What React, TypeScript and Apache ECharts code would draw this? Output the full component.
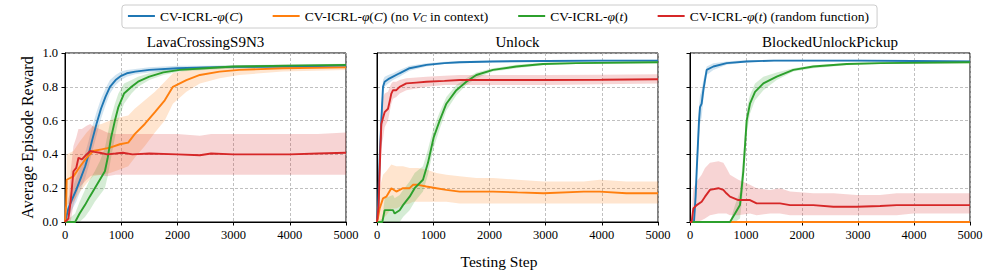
import React, { useEffect, useRef } from "react";
import * as echarts from "echarts";

// ---------- names ----------
const NAME_C = "CV-ICRL-φ(C)";
const NAME_C_NOV = "CV-ICRL-φ(C) (no V_C in context)";
const NAME_T = "CV-ICRL-φ(t)";
const NAME_T_RND = "CV-ICRL-φ(t) (random function)";
const seriesNames = [NAME_C, NAME_C_NOV, NAME_T, NAME_T_RND];
const panelTitles = ["LavaCrossingS9N3", "Unlock", "BlockedUnlockPickup"];

// ---------- LavaCrossingS9N3 ----------
const lavaBlueX = [0, 60, 120, 200, 280, 360, 420, 480, 560, 640, 720, 800, 900, 1000, 1100, 1250, 1500, 2000, 2500, 3000, 4000, 5000];
const lavaBlueY = [0, 0.08, 0.13, 0.19, 0.26, 0.33, 0.4, 0.48, 0.58, 0.67, 0.74, 0.8, 0.84, 0.865, 0.88, 0.89, 0.9, 0.91, 0.915, 0.918, 0.92, 0.925];
const lavaBlueLo = [0, 0.02, 0.07, 0.12, 0.19, 0.26, 0.33, 0.41, 0.51, 0.61, 0.69, 0.76, 0.81, 0.84, 0.86, 0.875, 0.885, 0.895, 0.905, 0.908, 0.91, 0.915];
const lavaBlueHi = [0.02, 0.14, 0.19, 0.26, 0.33, 0.41, 0.48, 0.56, 0.65, 0.73, 0.79, 0.84, 0.87, 0.89, 0.9, 0.905, 0.915, 0.925, 0.925, 0.928, 0.93, 0.935];

const lavaOrangeX = [0, 20, 30, 150, 270, 385, 500, 650, 800, 976, 1125, 1240, 1420, 1600, 1775, 1920, 2160, 2400, 2750, 3100, 3875, 5000];
const lavaOrangeY = [0, 0.1, 0.25, 0.27, 0.33, 0.38, 0.42, 0.43, 0.44, 0.46, 0.47, 0.52, 0.58, 0.65, 0.72, 0.8, 0.84, 0.87, 0.89, 0.9, 0.91, 0.915];
const lavaOrangeLo = [0, 0, 0.1, 0.12, 0.18, 0.23, 0.27, 0.28, 0.29, 0.31, 0.33, 0.38, 0.45, 0.53, 0.6, 0.7, 0.77, 0.82, 0.85, 0.87, 0.89, 0.9];
const lavaOrangeHi = [0, 0.2, 0.4, 0.42, 0.48, 0.53, 0.57, 0.58, 0.6, 0.62, 0.63, 0.67, 0.72, 0.77, 0.83, 0.88, 0.9, 0.91, 0.92, 0.925, 0.93, 0.93];

const lavaGreenX = [0, 180, 260, 355, 440, 530, 620, 710, 760, 820, 888, 950, 1050, 1183, 1300, 1500, 1750, 2040, 2500, 3000, 4000, 5000];
const lavaGreenY = [0, 0, 0.05, 0.1, 0.15, 0.2, 0.25, 0.3, 0.38, 0.5, 0.6, 0.68, 0.76, 0.8, 0.83, 0.86, 0.885, 0.9, 0.91, 0.92, 0.925, 0.93];
const lavaGreenLo = [0, 0, 0, 0.03, 0.07, 0.12, 0.16, 0.2, 0.27, 0.38, 0.5, 0.6, 0.7, 0.76, 0.8, 0.84, 0.87, 0.89, 0.9, 0.91, 0.915, 0.92];
const lavaGreenHi = [0, 0.05, 0.12, 0.19, 0.25, 0.3, 0.36, 0.44, 0.52, 0.62, 0.7, 0.76, 0.82, 0.84, 0.86, 0.88, 0.9, 0.91, 0.92, 0.928, 0.932, 0.937];

const lavaRedX = [0, 60, 100, 150, 200, 240, 300, 385, 450, 520, 620, 750, 900, 1030, 1200, 1500, 2000, 2400, 2600, 3000, 3500, 4000, 4500, 5000];
const lavaRedY = [0, 0.02, 0.12, 0.3, 0.32, 0.38, 0.37, 0.4, 0.42, 0.415, 0.41, 0.4, 0.405, 0.41, 0.4, 0.405, 0.4, 0.395, 0.405, 0.4, 0.4, 0.4, 0.405, 0.41];
const lavaRedLo = [0, 0, 0, 0.1, 0.15, 0.2, 0.22, 0.25, 0.27, 0.28, 0.28, 0.27, 0.28, 0.28, 0.28, 0.28, 0.28, 0.28, 0.28, 0.28, 0.28, 0.28, 0.28, 0.28];
const lavaRedHi = [0, 0.1, 0.3, 0.45, 0.5, 0.55, 0.55, 0.57, 0.58, 0.56, 0.55, 0.53, 0.52, 0.52, 0.52, 0.52, 0.52, 0.51, 0.52, 0.52, 0.52, 0.52, 0.52, 0.53];

// ---------- Unlock ----------
const unlockBlueX = [0, 20, 50, 77, 107, 136, 200, 285, 400, 580, 880, 1200, 1470, 2060, 3000, 4000, 5000];
const unlockBlueY = [0, 0.1, 0.4, 0.6, 0.8, 0.83, 0.845, 0.86, 0.88, 0.91, 0.93, 0.94, 0.945, 0.95, 0.953, 0.955, 0.955];
const unlockBlueLo = [0, 0.05, 0.3, 0.52, 0.75, 0.8, 0.82, 0.84, 0.86, 0.895, 0.92, 0.935, 0.94, 0.945, 0.948, 0.95, 0.95];
const unlockBlueHi = [0, 0.15, 0.5, 0.68, 0.84, 0.86, 0.87, 0.88, 0.9, 0.925, 0.94, 0.948, 0.952, 0.955, 0.958, 0.96, 0.96];

const unlockOrangeX = [0, 20, 47, 107, 166, 255, 344, 463, 581, 640, 730, 878, 1056, 1234, 1470, 1767, 2064, 2500, 2966, 3677, 3962, 4437, 5000];
const unlockOrangeY = [0, 0.03, 0.08, 0.14, 0.15, 0.2, 0.18, 0.2, 0.2, 0.22, 0.22, 0.21, 0.2, 0.19, 0.18, 0.18, 0.18, 0.175, 0.17, 0.18, 0.18, 0.17, 0.17];
const unlockOrangeLo = [0, 0, 0, 0.02, 0.04, 0.08, 0.08, 0.1, 0.11, 0.12, 0.12, 0.12, 0.12, 0.12, 0.11, 0.11, 0.11, 0.11, 0.11, 0.11, 0.11, 0.11, 0.11];
const unlockOrangeHi = [0, 0.1, 0.2, 0.28, 0.3, 0.34, 0.33, 0.33, 0.32, 0.32, 0.32, 0.31, 0.29, 0.28, 0.27, 0.26, 0.26, 0.25, 0.24, 0.24, 0.25, 0.24, 0.24];

const unlockGreenX = [0, 95, 136, 285, 314, 403, 463, 581, 670, 818, 907, 1008, 1115, 1234, 1412, 1590, 1767, 2064, 2479, 2954, 3547, 5000];
const unlockGreenY = [0, 0, 0.07, 0.07, 0.05, 0.07, 0.1, 0.15, 0.2, 0.25, 0.35, 0.5, 0.6, 0.7, 0.78, 0.83, 0.87, 0.9, 0.92, 0.935, 0.94, 0.945];
const unlockGreenLo = [0, 0, 0, 0, 0, 0, 0.03, 0.07, 0.12, 0.18, 0.28, 0.44, 0.55, 0.66, 0.75, 0.81, 0.85, 0.89, 0.91, 0.928, 0.935, 0.94];
const unlockGreenHi = [0, 0.02, 0.14, 0.16, 0.14, 0.16, 0.19, 0.24, 0.29, 0.33, 0.43, 0.56, 0.65, 0.74, 0.81, 0.85, 0.885, 0.91, 0.93, 0.942, 0.947, 0.95];

const unlockRedX = [0, 30, 47, 77, 110, 136, 196, 230, 255, 285, 344, 403, 522, 700, 878, 1200, 1470, 2000, 3000, 4000, 5000];
const unlockRedY = [0, 0.1, 0.3, 0.58, 0.62, 0.65, 0.67, 0.72, 0.76, 0.78, 0.78, 0.8, 0.82, 0.825, 0.83, 0.835, 0.84, 0.84, 0.84, 0.842, 0.845];
const unlockRedLo = [0, 0.02, 0.15, 0.45, 0.5, 0.56, 0.6, 0.66, 0.7, 0.73, 0.74, 0.76, 0.78, 0.79, 0.8, 0.81, 0.81, 0.81, 0.81, 0.815, 0.82];
const unlockRedHi = [0, 0.2, 0.45, 0.7, 0.74, 0.76, 0.77, 0.8, 0.82, 0.83, 0.83, 0.84, 0.85, 0.855, 0.86, 0.865, 0.87, 0.87, 0.87, 0.872, 0.875];

// ---------- BlockedUnlockPickup ----------
const blockedBlueX = [0, 71, 100, 119, 161, 179, 208, 238, 298, 417, 655, 1012, 1500, 2000, 3000, 4000, 5000];
const blockedBlueY = [0, 0, 0.15, 0.3, 0.6, 0.68, 0.7, 0.78, 0.9, 0.92, 0.94, 0.95, 0.955, 0.955, 0.955, 0.953, 0.95];
const blockedBlueLo = [0, 0, 0.08, 0.22, 0.5, 0.58, 0.62, 0.72, 0.87, 0.9, 0.93, 0.945, 0.95, 0.95, 0.95, 0.948, 0.945];
const blockedBlueHi = [0, 0.02, 0.22, 0.38, 0.68, 0.75, 0.78, 0.84, 0.92, 0.94, 0.95, 0.958, 0.96, 0.96, 0.96, 0.958, 0.955];

const blockedOrangeX = [0, 5000];
const blockedOrangeY = [0, 0];
const blockedOrangeLo = [0, 0];
const blockedOrangeHi = [0, 0];

const blockedGreenX = [0, 714, 804, 893, 952, 1012, 1071, 1161, 1310, 1548, 1845, 2202, 2798, 3400, 5000];
const blockedGreenY = [0, 0, 0.05, 0.1, 0.3, 0.6, 0.7, 0.77, 0.82, 0.86, 0.9, 0.92, 0.935, 0.94, 0.945];
const blockedGreenLo = [0, 0, 0, 0.02, 0.2, 0.52, 0.64, 0.72, 0.78, 0.84, 0.89, 0.91, 0.928, 0.935, 0.94];
const blockedGreenHi = [0, 0, 0.1, 0.18, 0.4, 0.67, 0.75, 0.82, 0.86, 0.885, 0.91, 0.928, 0.94, 0.945, 0.95];

const blockedRedX = [0, 30, 60, 119, 208, 268, 357, 506, 595, 650, 714, 863, 1071, 1190, 1429, 1607, 1786, 2202, 2560, 2976, 3393, 3690, 3988, 4583, 5000];
const blockedRedY = [0, 0, 0.08, 0.1, 0.12, 0.15, 0.19, 0.2, 0.19, 0.17, 0.15, 0.13, 0.13, 0.11, 0.11, 0.11, 0.1, 0.1, 0.09, 0.09, 0.095, 0.1, 0.1, 0.1, 0.1];
const blockedRedLo = [0, 0, 0, 0, 0.01, 0.02, 0.04, 0.05, 0.05, 0.05, 0.04, 0.04, 0.05, 0.04, 0.05, 0.05, 0.04, 0.04, 0.04, 0.04, 0.04, 0.04, 0.05, 0.05, 0.05];
const blockedRedHi = [0, 0.05, 0.2, 0.24, 0.28, 0.32, 0.35, 0.36, 0.35, 0.32, 0.28, 0.25, 0.22, 0.2, 0.19, 0.2, 0.18, 0.17, 0.17, 0.16, 0.16, 0.17, 0.17, 0.17, 0.17];

// ---------- styling ----------
const COLORS = ["#1f77b4", "#ff7f0e", "#2ca02c", "#d62728"];
const SERIF = "'Liberation Serif', 'DejaVu Serif', serif";
const GRIDS = [
  { left: 65, top: 53, width: 281, height: 169 },
  { left: 377, top: 53, width: 281, height: 169 },
  { left: 690, top: 53, width: 280, height: 169 },
];

type Curve = { x: number[]; y: number[]; lo: number[]; hi: number[]; band: boolean };

const panels: Curve[][] = [
  [
    { x: lavaBlueX, y: lavaBlueY, lo: lavaBlueLo, hi: lavaBlueHi, band: true },
    { x: lavaOrangeX, y: lavaOrangeY, lo: lavaOrangeLo, hi: lavaOrangeHi, band: true },
    { x: lavaGreenX, y: lavaGreenY, lo: lavaGreenLo, hi: lavaGreenHi, band: true },
    { x: lavaRedX, y: lavaRedY, lo: lavaRedLo, hi: lavaRedHi, band: true },
  ],
  [
    { x: unlockBlueX, y: unlockBlueY, lo: unlockBlueLo, hi: unlockBlueHi, band: true },
    { x: unlockOrangeX, y: unlockOrangeY, lo: unlockOrangeLo, hi: unlockOrangeHi, band: true },
    { x: unlockGreenX, y: unlockGreenY, lo: unlockGreenLo, hi: unlockGreenHi, band: true },
    { x: unlockRedX, y: unlockRedY, lo: unlockRedLo, hi: unlockRedHi, band: true },
  ],
  [
    { x: blockedBlueX, y: blockedBlueY, lo: blockedBlueLo, hi: blockedBlueHi, band: true },
    { x: blockedOrangeX, y: blockedOrangeY, lo: blockedOrangeLo, hi: blockedOrangeHi, band: false },
    { x: blockedGreenX, y: blockedGreenY, lo: blockedGreenLo, hi: blockedGreenHi, band: true },
    { x: blockedRedX, y: blockedRedY, lo: blockedRedLo, hi: blockedRedHi, band: true },
  ],
];

const legendRichText: Record<string, string> = {
  [NAME_C]: "{n|CV-ICRL-}{i|φ}{n|(}{i|C}{n|)}",
  [NAME_C_NOV]: "{n|CV-ICRL-}{i|φ}{n|(}{i|C}{n|) (no }{i|V}{s|C}{n| in context)}",
  [NAME_T]: "{n|CV-ICRL-}{i|φ}{n|(}{i|t}{n|)}",
  [NAME_T_RND]: "{n|CV-ICRL-}{i|φ}{n|(}{i|t}{n|) (random function)}",
};

function bandSeries(c: Curve, p: number, color: string) {
  return {
    type: "custom",
    name: `band-${p}`,
    xAxisIndex: p,
    yAxisIndex: p,
    silent: true,
    z: 2,
    data: c.x.map((x, i) => [x, c.lo[i], c.hi[i]]),
    encode: { x: 0, y: [1, 2] },
    renderItem: (params: any, api: any) => {
      if (params.dataIndex !== 0) return null;
      const upper = c.x.map((x, i) => api.coord([x, c.hi[i]]));
      const lower = c.x.map((x, i) => api.coord([x, c.lo[i]])).reverse();
      return {
        type: "polygon",
        shape: { points: upper.concat(lower) },
        style: { fill: color, opacity: 0.2, stroke: "none" },
      };
    },
  };
}

function buildOption() {
  const series: any[] = [];
  panels.forEach((curves, p) => {
    curves.forEach((c, k) => {
      const color = COLORS[k];
      if (c.band) series.push(bandSeries(c, p, color));
      series.push({
        type: "line",
        name: seriesNames[k],
        xAxisIndex: p,
        yAxisIndex: p,
        data: c.x.map((x, i) => [x, c.y[i]]),
        symbol: "none",
        color,
        itemStyle: { color },
        lineStyle: { color, width: 1.9 },
        z: 3,
      });
    });
  });

  const xAxis = GRIDS.map((_, p) => ({
    type: "value",
    gridIndex: p,
    min: 0,
    max: 5000,
    interval: 1000,
    axisLine: { show: true, lineStyle: { color: "#000", width: 1 } },
    axisTick: { show: true, inside: false, length: 3.5, lineStyle: { color: "#000" } },
    axisLabel: {
      show: true,
      margin: 6,
      color: "#000",
      fontFamily: SERIF,
      fontSize: 12.5,
      formatter: (v: number) => String(v),
    },
    splitLine: { show: true, lineStyle: { color: "#b0b0b0", type: [3, 2], width: 0.8 } },
  }));
  const yAxis = GRIDS.map((_, p) => ({
    type: "value",
    gridIndex: p,
    min: 0,
    max: 1,
    interval: 0.2,
    axisLine: { show: true, lineStyle: { color: "#000", width: 1 } },
    axisTick: { show: true, inside: false, length: 3.5, lineStyle: { color: "#000" } },
    axisLabel: {
      show: p === 0,
      margin: 7,
      color: "#000",
      fontFamily: SERIF,
      fontSize: 12.5,
      formatter: (v: number) => v.toFixed(1),
    },
    splitLine: { show: true, lineStyle: { color: "#b0b0b0", type: [3, 2], width: 0.8 } },
    name: p === 0 ? "Average Episode Reward" : "",
    nameLocation: "middle",
    nameGap: 30,
    nameTextStyle: { color: "#000", fontFamily: SERIF, fontSize: 16 },
  }));

  const graphic: any[] = panelTitles.map((t, p) => ({
    type: "text",
    x: GRIDS[p].left + GRIDS[p].width / 2,
    y: 42,
    style: {
      text: t,
      fill: "#000",
      fontFamily: SERIF,
      fontSize: 15,
      fontWeight: "normal",
      align: "center",
      verticalAlign: "middle",
    },
  }));
  graphic.push({
    type: "text",
    x: 499,
    y: 261,
    style: {
      text: "Testing Step",
      fill: "#000",
      fontFamily: SERIF,
      fontSize: 15.5,
      fontWeight: "normal",
      align: "center",
      verticalAlign: "middle",
    },
  });

  const base = { fontFamily: SERIF, fontSize: 13.5, color: "#000" };
  return {
    animation: false,
    backgroundColor: "#fff",
    grid: GRIDS.map((g) => ({ ...g, show: true, borderColor: "#000", borderWidth: 1, backgroundColor: "transparent" })),
    xAxis,
    yAxis,
    legend: {
      data: seriesNames,
      left: "center",
      top: 5,
      padding: [4, 8, 4, 6],
      itemGap: 30,
      itemWidth: 27,
      itemHeight: 2,
      icon: "rect",
      borderColor: "#cccccc",
      borderWidth: 1,
      borderRadius: 3,
      backgroundColor: "#fff",
      selectedMode: false,
      formatter: (name: string) => legendRichText[name] || name,
      textStyle: {
        ...base,
        rich: {
          n: { ...base },
          i: { ...base, fontStyle: "italic" },
          s: { ...base, fontSize: 9.5, fontStyle: "italic", verticalAlign: "bottom", padding: [6, 0, 0, 0] },
        },
      },
    },
    graphic,
    series,
  };
}

export default function App() {
  const ref = useRef<HTMLDivElement>(null);
  useEffect(() => {
    if (!ref.current) return;
    const chart = echarts.init(ref.current, undefined, { renderer: "svg" });
    chart.setOption(buildOption() as any);
    return () => chart.dispose();
  }, []);
  return <div ref={ref} style={{ position: "fixed", left: 0, top: 0, width: 997, height: 272 }} />;
}
